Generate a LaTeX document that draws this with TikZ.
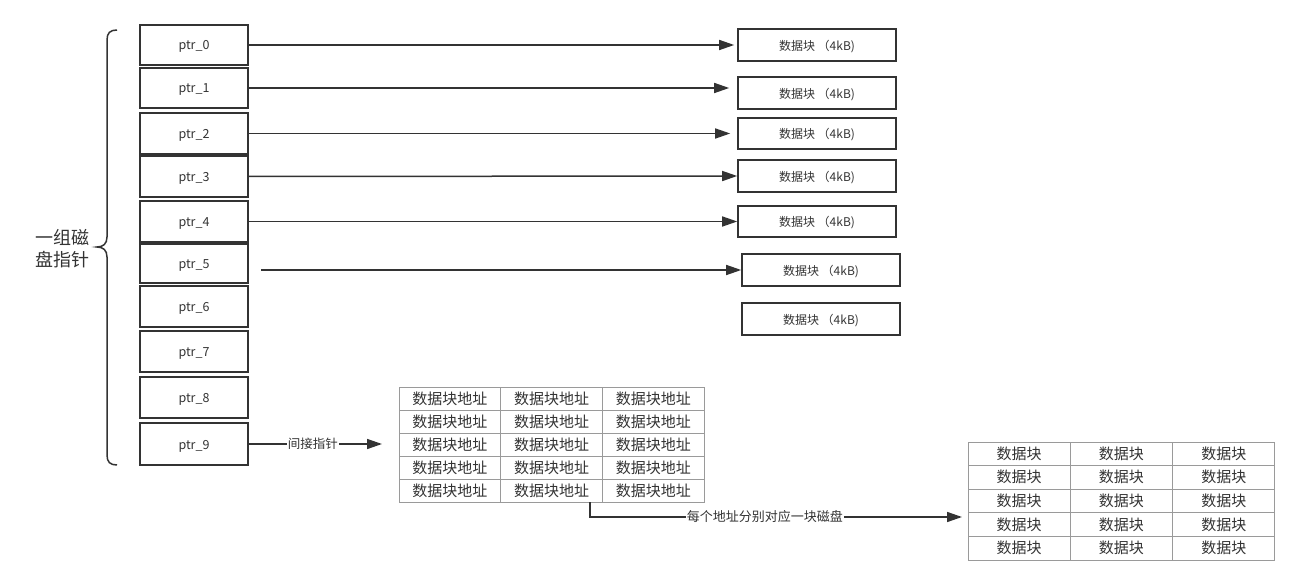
\documentclass[tikz,border=0pt]{standalone}
\usepackage{fontspec}
\setmainfont{Noto Sans CJK SC}
\usetikzlibrary{arrows.meta,calc}
\definecolor{dk}{HTML}{333333}
\definecolor{gr}{HTML}{9A9A9A}
\definecolor{tx}{HTML}{333333}
\begin{document}
\begin{tikzpicture}[x=1pt,y=-1pt,
 ptrbox/.style={draw=dk,line width=1.8pt,minimum width=108pt,inner sep=0pt,text height=1em,text depth=0pt,font=\fontsize{12.5}{14}\selectfont,text=tx},
 blkbox/.style={draw=dk,line width=1.6pt,minimum width=158pt,minimum height=32pt,inner sep=0pt,text height=1.1em,text depth=0pt,font=\fontsize{12}{14}\selectfont,text=tx},
 cellA/.style={draw=gr,line width=0.9pt,minimum width=101.7pt,minimum height=23pt,inner sep=0pt,text height=1.1em,text depth=0pt,font=\fontsize{15}{17}\selectfont,text=tx},
 cellB/.style={draw=gr,line width=0.9pt,minimum width=102.3pt,minimum height=23.6pt,inner sep=0pt,text height=1.1em,text depth=0pt,font=\fontsize{15}{17}\selectfont,text=tx},
 arr/.style={draw=dk,line width=1.5pt,-{Triangle[length=15pt,width=10pt]}},
 lbl/.style={fill=white,inner sep=1pt,text height=0.95em,text depth=0pt,font=\fontsize{12.5}{14}\selectfont,text=tx}]
\useasboundingbox (0,0) rectangle (1300,585);
\fill[white] (0,0) rectangle (1300,585);

% pointer boxes
\node[ptrbox,minimum height=40pt] (p0) at (194,45) {ptr\_0};
\node[ptrbox,minimum height=40pt] (p1) at (194,88) {ptr\_1};
\node[ptrbox,minimum height=41pt] (p2) at (194,133.5) {ptr\_2};
\node[ptrbox,minimum height=41pt] (p3) at (194,176.5) {ptr\_3};
\node[ptrbox,minimum height=41pt] (p4) at (194,221.5) {ptr\_4};
\node[ptrbox,minimum height=39pt] (p5) at (194,263.5) {ptr\_5};
\node[ptrbox,minimum height=41pt] (p6) at (194,306.5) {ptr\_6};
\node[ptrbox,minimum height=41pt] (p7) at (194,351.5) {ptr\_7};
\node[ptrbox,minimum height=41pt] (p8) at (194,397.5) {ptr\_8};
\node[ptrbox,minimum height=42pt] (p9) at (194,444) {ptr\_9};

% brace and label
\draw[dk,line width=1.5pt] (117,30) .. controls (110,30) and (107,33) .. (107,40) -- (107,237)
  .. controls (107,244) and (103,247) .. (97,247)
  .. controls (103,247) and (107,250) .. (107,257) -- (107,455)
  .. controls (107,462) and (110,465) .. (117,465);
\node[align=center,text=tx,font=\fontsize{18}{22}\selectfont,inner sep=0pt] (grp) at (62,249) {一组磁\\盘指针};

% data blocks
\node[blkbox] (b0) at (817,45) {数据块 （4kB)};
\node[blkbox] (b1) at (817,93) {数据块 （4kB)};
\node[blkbox,minimum height=31pt] (b2) at (817,133.5) {数据块 （4kB)};
\node[blkbox] (b3) at (817,176) {数据块 （4kB)};
\node[blkbox,minimum height=31pt] (b4) at (817,221.5) {数据块 （4kB)};
\node[blkbox] (b5) at (821,270) {数据块 （4kB)};
\node[blkbox] (b6) at (821,319) {数据块 （4kB)};

% arrows to blocks
\draw[arr,shorten >=3pt] (p0.east) -- (b0.west);
\draw[arr] (p1.east) -- ($(p1.east -| b1.west)+(-8,0)$);
\draw[arr] (p2.east) -- ($(b2.west)+(-7,0)$);
\draw[arr] (p3.east) -- (b3.west);
\draw[arr] (p4.east) -- (b4.west);
\coordinate (s5) at (261,270);
\draw[arr] (s5) -- (b5.west);

% address table
\foreach \r in {1,...,5}
  \foreach \c in {1,2,3}
    \node[cellA] (t1-\r-\c) at ({399+101.7*(\c-1)+50.85},{387+23*(\r-1)+11.5}) {数据块地址};

% data block table
\foreach \r in {1,...,5}
  \foreach \c in {1,2,3}
    \node[cellB] (t2-\r-\c) at ({968+102.3*(\c-1)+51.15},{442+23.6*(\r-1)+11.8}) {数据块};

% indirect pointer arrow
\coordinate (a9) at (382,444);
\draw[arr] (p9.east) -- node[lbl,pos=0.48]{间接指针} (a9);

% address to disk arrow
\coordinate (c1) at (590,502);
\coordinate (c2) at (962,517);
\draw[arr] (c1) |- node[lbl,pos=0.735,font=\fontsize{13}{15}\selectfont]{每个地址分别对应一块磁盘} (c2);
\end{tikzpicture}
\end{document}
